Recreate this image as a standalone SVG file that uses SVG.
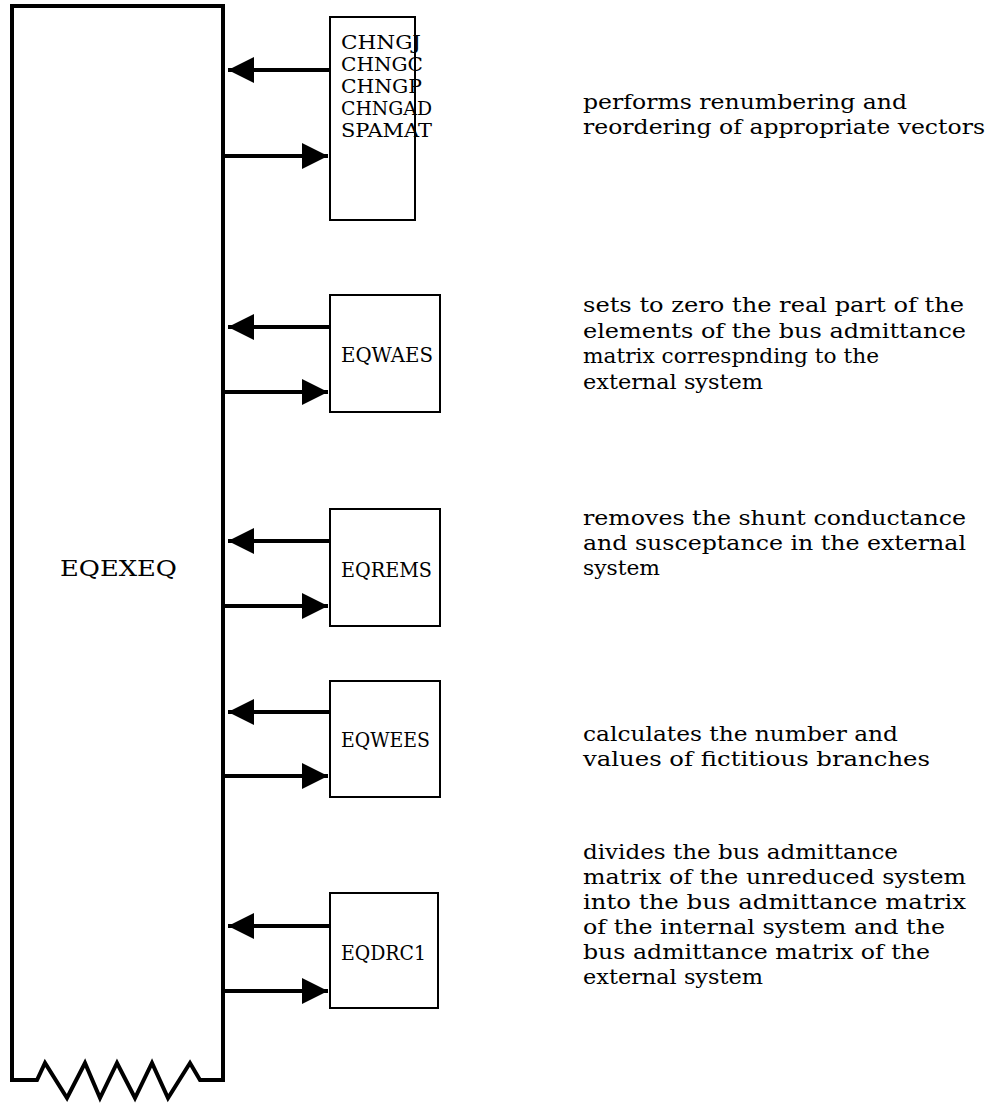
<svg xmlns="http://www.w3.org/2000/svg" width="988" height="1103" viewBox="0 0 988 1103">
  <style>
    .frame { fill: none; stroke: #000; stroke-width: 4; stroke-linejoin: miter; }
    .box { fill: #fff; stroke: #000; stroke-width: 2; }
    .shaft { stroke: #000; stroke-width: 4; fill: none; }
    .label { font-family: "DejaVu Serif", "Liberation Serif", serif; font-size: 20px; fill: #000; }
    .stack { font-size: 18.5px; }
    .main { font-size: 23px; }
    .note { font-family: "DejaVu Serif", "Liberation Serif", serif; font-size: 21.3px; fill: #000; }
  </style>
  <defs>
    <marker id="head" viewBox="0 0 26 26" refX="26" refY="13" markerWidth="26" markerHeight="26" markerUnits="userSpaceOnUse" orient="auto">
      <path d="M0,0 L26,13 L0,26 Z" fill="#000"/>
    </marker>
  </defs>
  <rect width="988" height="1103" fill="#fff"/>

  <!-- main routine frame with broken (zigzag) bottom -->
  <g id="eqexeq">
    <path class="frame" d="M12,1080 L12,6 L223,6 L223,1080 L200,1080 L190,1063 L168,1098 L152,1063 L135,1098 L117,1063 L100,1098 L85,1063 L67,1098 L45,1063 L37,1080 L10,1080"/>
    <text class="label main" x="60" y="576" textLength="117" lengthAdjust="spacingAndGlyphs">EQEXEQ</text>
  </g>

  <g id="chng">
    <rect class="box" x="330" y="17" width="85" height="203"/>
    <text class="label stack" x="341" y="49" textLength="80" lengthAdjust="spacingAndGlyphs">CHNGJ</text>
    <text class="label stack" x="341" y="71" textLength="82" lengthAdjust="spacingAndGlyphs">CHNGC</text>
    <text class="label stack" x="341" y="93" textLength="81" lengthAdjust="spacingAndGlyphs">CHNGP</text>
    <text class="label stack" x="341" y="115" textLength="91" lengthAdjust="spacingAndGlyphs">CHNGAD</text>
    <text class="label stack" x="341" y="137" textLength="91" lengthAdjust="spacingAndGlyphs">SPAMAT</text>
  </g>

  <g id="eqwaes">
    <rect class="box" x="330" y="295" width="110" height="117"/>
    <text class="label" x="341" y="362" textLength="92" lengthAdjust="spacingAndGlyphs">EQWAES</text>
  </g>

  <g id="eqrems">
    <rect class="box" x="330" y="509" width="110" height="117"/>
    <text class="label" x="341" y="577" textLength="91" lengthAdjust="spacingAndGlyphs">EQREMS</text>
  </g>

  <g id="eqwees">
    <rect class="box" x="330" y="681" width="110" height="116"/>
    <text class="label" x="341" y="747" textLength="89" lengthAdjust="spacingAndGlyphs">EQWEES</text>
  </g>

  <g id="eqdrc1">
    <rect class="box" x="330" y="893" width="108" height="115"/>
    <text class="label" x="341" y="960" textLength="85" lengthAdjust="spacingAndGlyphs">EQDRC1</text>
  </g>

  <!-- calls out of and returns into the main routine -->
  <g id="connectors">
    <line class="shaft" x1="331" y1="70" x2="228" y2="70" marker-end="url(#head)"/>
    <line class="shaft" x1="225" y1="156" x2="328" y2="156" marker-end="url(#head)"/>
    <line class="shaft" x1="331" y1="327" x2="228" y2="327" marker-end="url(#head)"/>
    <line class="shaft" x1="225" y1="392" x2="328" y2="392" marker-end="url(#head)"/>
    <line class="shaft" x1="331" y1="541" x2="228" y2="541" marker-end="url(#head)"/>
    <line class="shaft" x1="225" y1="606" x2="328" y2="606" marker-end="url(#head)"/>
    <line class="shaft" x1="331" y1="712" x2="228" y2="712" marker-end="url(#head)"/>
    <line class="shaft" x1="225" y1="776" x2="328" y2="776" marker-end="url(#head)"/>
    <line class="shaft" x1="331" y1="926" x2="228" y2="926" marker-end="url(#head)"/>
    <line class="shaft" x1="225" y1="991" x2="328" y2="991" marker-end="url(#head)"/>
  </g>

  <!-- descriptions -->
  <g id="notes">
    <text class="note" x="583" y="109" textLength="324" lengthAdjust="spacingAndGlyphs">performs renumbering and</text>
    <text class="note" x="583" y="134" textLength="402" lengthAdjust="spacingAndGlyphs">reordering of appropriate vectors</text>

    <text class="note" x="583" y="312" textLength="381" lengthAdjust="spacingAndGlyphs">sets to zero the real part of the</text>
    <text class="note" x="583" y="338" textLength="383" lengthAdjust="spacingAndGlyphs">elements of the bus admittance</text>
    <text class="note" x="583" y="363" textLength="296" lengthAdjust="spacingAndGlyphs">matrix correspnding to the</text>
    <text class="note" x="583" y="389" textLength="180" lengthAdjust="spacingAndGlyphs">external system</text>

    <text class="note" x="583" y="525" textLength="383" lengthAdjust="spacingAndGlyphs">removes the shunt conductance</text>
    <text class="note" x="583" y="550" textLength="383" lengthAdjust="spacingAndGlyphs">and susceptance in the external</text>
    <text class="note" x="583" y="575" textLength="77" lengthAdjust="spacingAndGlyphs">system</text>

    <text class="note" x="583" y="741" textLength="315" lengthAdjust="spacingAndGlyphs">calculates the number and</text>
    <text class="note" x="583" y="766" textLength="347" lengthAdjust="spacingAndGlyphs">values of fictitious branches</text>

    <text class="note" x="583" y="859" textLength="315" lengthAdjust="spacingAndGlyphs">divides the bus admittance</text>
    <text class="note" x="583" y="884" textLength="383" lengthAdjust="spacingAndGlyphs">matrix of the unreduced system</text>
    <text class="note" x="583" y="909" textLength="383" lengthAdjust="spacingAndGlyphs">into the bus admittance matrix</text>
    <text class="note" x="583" y="934" textLength="362" lengthAdjust="spacingAndGlyphs">of the internal system and the</text>
    <text class="note" x="583" y="959" textLength="347" lengthAdjust="spacingAndGlyphs">bus admittance matrix of the</text>
    <text class="note" x="583" y="984" textLength="180" lengthAdjust="spacingAndGlyphs">external system</text>
  </g>
</svg>
